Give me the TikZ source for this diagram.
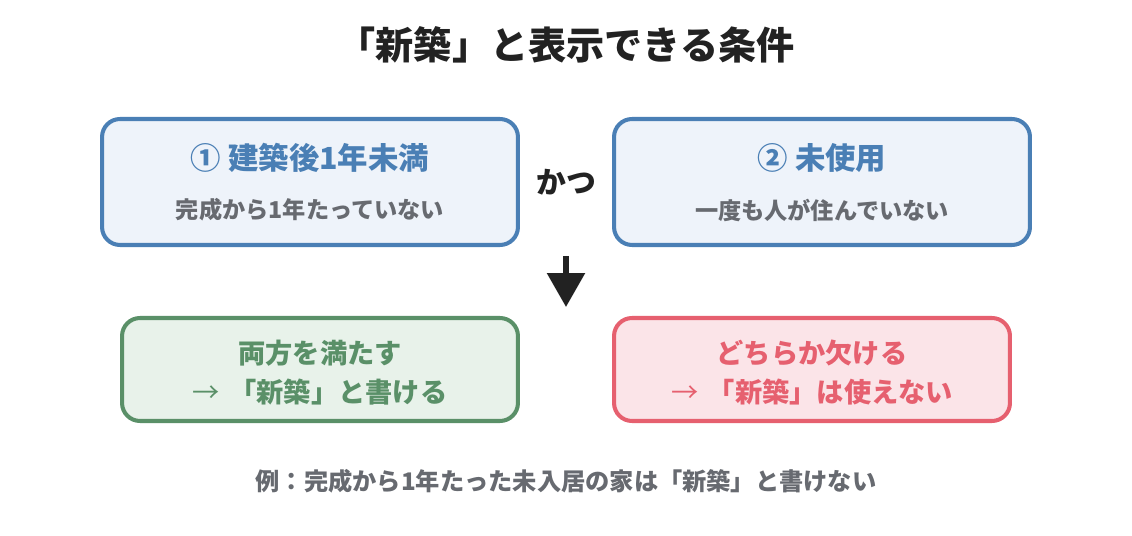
\documentclass[tikz,border=0pt]{standalone}
\usepackage{fontspec}
\setmainfont{Noto Sans CJK JP}
\usepackage{xcolor}
\usetikzlibrary{arrows.meta, positioning}

\definecolor{inkdark}{HTML}{222222}
\definecolor{inkgray}{HTML}{676A70}
\definecolor{condblue}{HTML}{4A7FB5}
\definecolor{condfill}{HTML}{EEF3FA}
\definecolor{okgreen}{HTML}{5A9068}
\definecolor{okfill}{HTML}{E8F2EA}
\definecolor{ngred}{HTML}{E6606F}
\definecolor{ngfill}{HTML}{FBE4E8}

\newcommand{\thinarrow}{{\mdseries →}\hspace{0.35em}}

\begin{document}
\begin{tikzpicture}[
    x=0.02cm, y=-0.02cm,
    condbox/.style={rectangle, rounded corners=0.36cm, draw=condblue, fill=condfill, line width=2.3pt, minimum width=8.32cm, minimum height=2.52cm},
    resbox/.style={rectangle, rounded corners=0.36cm, line width=2.3pt, minimum width=7.92cm, minimum height=2.06cm},
    headtext/.style={font=\fontsize{17.3}{20}\selectfont\bfseries, text=condblue},
    subtext/.style={font=\fontsize{13.2}{16}\selectfont\bfseries, text=inkgray},
    restext/.style={font=\fontsize{15.5}{18}\selectfont\bfseries}
]
\useasboundingbox (0,0) rectangle (1132,536);

% Title
\node[font=\fontsize{21.7}{26}\selectfont\bfseries, text=inkdark] (title) at (566,45) {「新築」と表示できる条件};

% Conditions
\node[condbox] (cond1) at (310,182) {};
\node[headtext] (cond1head) at (310,158) {① 建築後1年未満};
\node[subtext] (cond1sub) at (310,210) {完成から1年たっていない};

\node[condbox] (cond2) at (822,182) {};
\node[headtext] (cond2head) at (822,158) {② 未使用};
\node[subtext] (cond2sub) at (822,210) {一度も人が住んでいない};

\node[font=\fontsize{17}{20}\selectfont\bfseries, text=inkdark] (katsu) at (566,182) {かつ};

% Arrow
\coordinate (arrtop) at (566,256);
\coordinate (arrbot) at (566,307);
\draw[-{Triangle[length=0.68cm, width=0.74cm]}, line width=3.3pt, draw=inkdark, fill=inkdark] (arrtop) -- (arrbot);

% Results
\node[resbox, draw=okgreen, fill=okfill] (ok) at (320,369.5) {};
\node[restext, text=okgreen] (okline1) at (320,353) {両方を満たす};
\node[restext, text=okgreen] (okline2) at (320,392) {\thinarrow「新築」と書ける};

\node[resbox, draw=ngred, fill=ngfill] (ng) at (812,369.5) {};
\node[restext, text=ngred] (ngline1) at (812,353) {どちらか欠ける};
\node[restext, text=ngred] (ngline2) at (812,392) {\thinarrow「新築」は使えない};

% Note
\node[font=\fontsize{13.8}{16}\selectfont\bfseries, text=inkgray] (note) at (566,481) {例：完成から1年たった未入居の家は「新築」と書けない};

\end{tikzpicture}
\end{document}
